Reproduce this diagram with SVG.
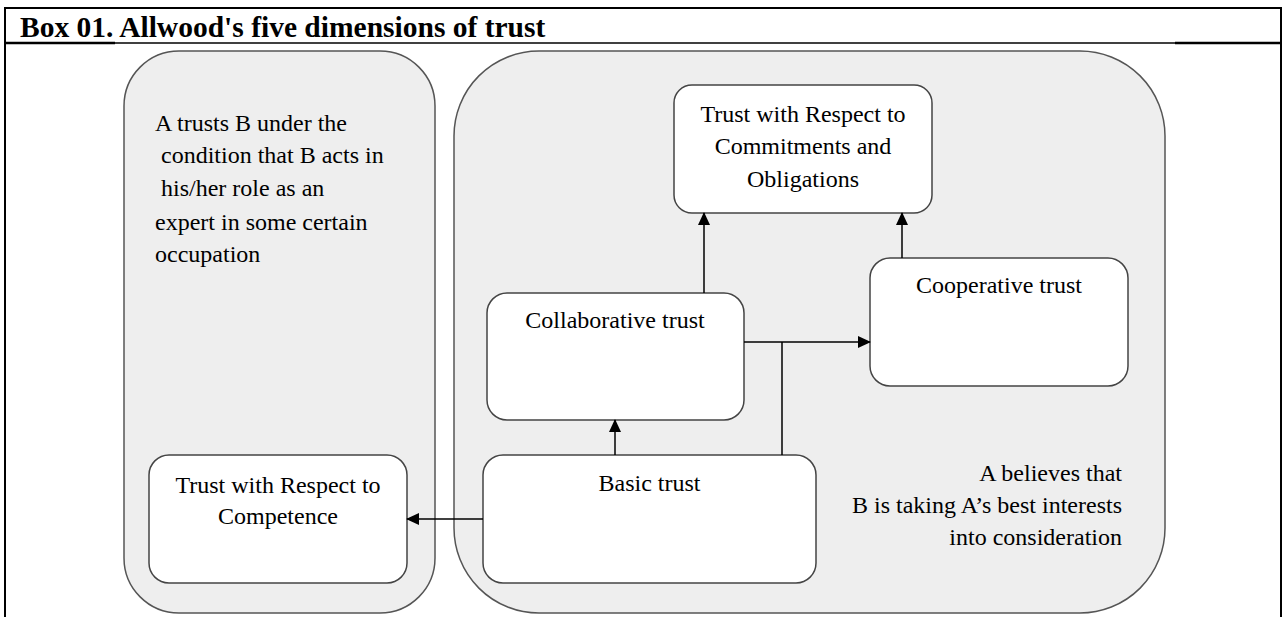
<svg xmlns="http://www.w3.org/2000/svg" width="1283" height="617" viewBox="0 0 1283 617">
<style>
text{font-family:"Liberation Serif","Times New Roman",serif;font-size:24px;fill:#000}
.title{font-weight:bold;font-size:29.5px}
.c{text-anchor:middle}
.r{text-anchor:end}
.grp{fill:#eeeeee;stroke:#555;stroke-width:1.5}
.node{fill:#fff;stroke:#444;stroke-width:1.5}
.frame{stroke:#000;fill:none}
.conn{stroke:#000;stroke-width:1.5;fill:none}
</style>
<defs>
<marker id="ah" markerUnits="userSpaceOnUse" markerWidth="13" markerHeight="12" refX="12" refY="6" orient="auto">
<path d="M0,0 L13,6 L0,12 Z" fill="#000"/>
</marker>
</defs>
<rect width="1283" height="617" fill="#fff"/>
<g id="frame">
<line class="frame" x1="4" y1="8" x2="1282" y2="8" stroke-width="2"/>
<line class="frame" x1="5" y1="7" x2="5" y2="617" stroke-width="2"/>
<line class="frame" x1="1281" y1="7" x2="1281" y2="617" stroke-width="2"/>
<line class="frame" x1="4" y1="43" x2="115" y2="43" stroke-width="2.5"/>
<line class="frame" x1="115" y1="43" x2="1175" y2="43" stroke-width="1.5"/>
<line class="frame" x1="1175" y1="43" x2="1282" y2="43" stroke-width="2.5"/>
<text class="title" x="20" y="37">Box 01. Allwood's five dimensions of trust</text>
</g>
<g id="competence-group">
<rect class="grp" x="124" y="51" width="311" height="562" rx="55" ry="55"/>
<text x="155" y="131">A trusts B under the</text>
<text x="161" y="163">condition that B acts in</text>
<text x="161" y="196">his/her role as an</text>
<text x="155" y="230">expert in some certain</text>
<text x="155" y="262">occupation</text>
</g>
<g id="interest-group">
<rect class="grp" x="454" y="51" width="711" height="562" rx="85" ry="85"/>
<text class="r" x="1122" y="481">A believes that</text>
<text class="r" x="1122" y="513">B is taking A’s best interests</text>
<text class="r" x="1122" y="545">into consideration</text>
</g>
<g id="commitments">
<rect class="node" x="674" y="85" width="258" height="128" rx="18" ry="18"/>
<text class="c" x="803" y="122">Trust with Respect to</text>
<text class="c" x="803" y="154">Commitments and</text>
<text class="c" x="803" y="187">Obligations</text>
</g>
<g id="cooperative">
<rect class="node" x="870" y="258" width="258" height="128" rx="20" ry="20"/>
<text class="c" x="999" y="293">Cooperative trust</text>
</g>
<g id="collaborative">
<rect class="node" x="487" y="293" width="257" height="127" rx="20" ry="20"/>
<text class="c" x="615" y="328">Collaborative trust</text>
</g>
<g id="basic">
<rect class="node" x="483" y="455" width="333" height="128" rx="20" ry="20"/>
<text class="c" x="649.5" y="491">Basic trust</text>
</g>
<g id="competence">
<rect class="node" x="149" y="455" width="258" height="128" rx="20" ry="20"/>
<text class="c" x="278" y="493">Trust with Respect to</text>
<text class="c" x="278" y="524">Competence</text>
</g>
<g id="connectors">
<line class="conn" x1="704" y1="293" x2="704" y2="213" marker-end="url(#ah)"/>
<line class="conn" x1="902" y1="258" x2="902" y2="213" marker-end="url(#ah)"/>
<line class="conn" x1="744" y1="342" x2="870" y2="342" marker-end="url(#ah)"/>
<line class="conn" x1="782" y1="342" x2="782" y2="455"/>
<line class="conn" x1="615" y1="455" x2="615" y2="420" marker-end="url(#ah)"/>
<line class="conn" x1="483" y1="519" x2="407" y2="519" marker-end="url(#ah)"/>
</g>
</svg>
